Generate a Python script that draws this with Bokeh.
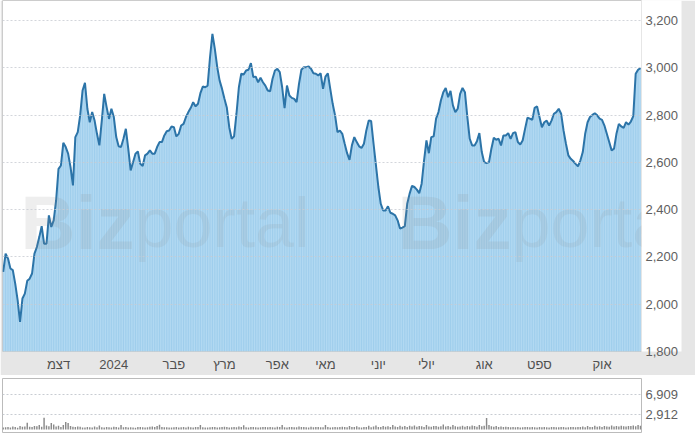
from bokeh.plotting import figure
from bokeh.layouts import column
from bokeh.models import Range1d, FixedTicker, NumeralTickFormatter, Label
from bokeh.embed import file_html
from bokeh.resources import INLINE

# ---- data ----
close = [
    2137, 2214, 2193, 2151, 2144, 2087, 2017, 1925, 2024, 2045,
    2099, 2108, 2130, 2214, 2242, 2284, 2330, 2256, 2256, 2376,
    2327, 2355, 2439, 2573, 2587, 2683, 2665, 2637, 2580, 2503,
    2707, 2728, 2799, 2904, 2937, 2827, 2770, 2813, 2777, 2721,
    2672, 2777, 2890, 2834, 2784, 2827, 2792, 2707, 2668, 2665,
    2700, 2742, 2658, 2566, 2601, 2637, 2646, 2594, 2585, 2630,
    2637, 2651, 2637, 2637, 2665, 2686, 2686, 2714, 2732, 2735,
    2752, 2749, 2710, 2721, 2756, 2763, 2792, 2813, 2831, 2855,
    2837, 2848, 2893, 2921, 2918, 2925, 3045, 3144, 3080, 3003,
    2946, 2911, 2869, 2831, 2749, 2700, 2710, 2806, 2918, 2975,
    2972, 2989, 2992, 3020, 2961, 2963, 2939, 2958, 2939, 2925,
    2904, 2901, 2954, 2989, 2996, 2982, 2918, 2830, 2925, 2883,
    2873, 2869, 2855, 2932, 2992, 3003,
    3003, 3006, 2996, 2977, 2975, 2968, 2977, 2911, 2963, 2977,
    2911, 2848, 2799, 2728, 2735, 2721, 2679, 2639, 2611, 2672,
    2707, 2686, 2668, 2661, 2679, 2735, 2777, 2775, 2679, 2587,
    2496, 2425, 2397, 2397, 2414, 2387, 2383, 2376, 2355, 2320,
    2324, 2330, 2425, 2468, 2501, 2496, 2485, 2470, 2510, 2608,
    2693, 2639, 2707, 2710, 2785, 2813, 2862, 2897, 2915, 2876,
    2903, 2841, 2813, 2827, 2890, 2915, 2897, 2792, 2700, 2672,
    2672, 2690, 2724, 2644, 2601, 2597, 2601, 2658, 2704, 2696,
    2700, 2672, 2714, 2714, 2724, 2700, 2724, 2728, 2686, 2676,
    2693, 2742, 2789, 2785, 2780, 2831, 2837, 2792, 2749, 2770,
    2777, 2756, 2777, 2806, 2813, 2827, 2806, 2735, 2679, 2630,
    2615, 2606, 2594, 2583, 2608, 2644, 2721, 2770, 2792, 2801,
    2808, 2799, 2785, 2780, 2756, 2721, 2686, 2651, 2658, 2721,
    2763, 2752, 2746, 2770, 2760, 2773, 2796, 2975, 2992, 2999,
]

volume = [
    380, 450, 520, 410, 600, 480, 350, 700, 560, 620,
    1350, 540, 480, 720, 650, 900, 560, 2350, 780, 640,
    1300, 980, 600, 750, 520, 880, 1500, 1300, 700, 560,
    480, 620, 540, 410, 380, 520, 450, 390, 600, 470,
    820, 450, 380, 520, 460, 410, 560, 480, 390, 880,
    440, 520, 380, 460, 410, 350, 480, 520, 440, 390,
    460, 540, 600, 480, 720, 950, 520, 440, 460, 380,
    410, 460, 520, 390, 450, 480, 420, 560, 470, 390,
    520, 480, 900, 460, 410, 380, 450, 520, 480, 400,
    460, 510, 560, 480, 420, 470, 520, 440, 600, 480,
    850, 460, 420, 510, 480, 440, 390, 460, 520, 480,
    440, 500, 470, 420, 560, 480, 900, 460, 420, 480,
    510, 470, 440, 600, 520, 480, 450, 410, 560, 470,
    490, 520, 460, 430, 900, 480, 420, 460, 500, 440,
    520, 560, 480, 440, 700, 520, 480, 650, 460, 420,
    480, 520, 750, 460, 600, 820, 520, 480, 700, 560,
    640, 520, 900, 600, 480, 760, 560, 680, 520, 740,
    600, 820, 560, 700, 640, 520, 900, 620, 560, 680,
    720, 560, 640, 980, 600, 700, 560, 880, 640, 560,
    620, 760, 540, 680, 600, 820, 700, 560, 900, 640,
    760, 2300, 880, 640, 560, 700, 520, 620, 480, 560,
    520, 460, 500, 440, 480, 420, 460, 520, 480, 440,
    500, 460, 420, 480, 440, 520, 460, 420, 480, 500,
    460, 440, 520, 480, 420, 460, 500, 480, 440, 520,
    480, 620, 460, 700, 520, 480, 760, 560, 640, 520,
    700, 600, 560, 800, 620, 700, 580, 760, 640, 600,
    720, 680, 800, 640, 900, 760,
]

month_labels = ["דצמ", "2024", "פבר", "מרץ", "אפר", "מאי", "יוני", "יולי", "אוג", "ספט", "אוק"]
month_pos = [23, 46, 71, 92, 114, 134, 156, 176, 200, 223, 249]

price_ticks = [1800, 2000, 2200, 2400, 2600, 2800, 3000, 3200]
volume_ticks = [2912, 6909]

price_view = (1800, 3285)
volume_view = (-600, 10200)

idx = list(range(len(close)))
W = 695
LEFT = 2
RIGHT = 54
FONT = "Liberation Sans"
BAND = "#e6e6e6"
x_range = Range1d(-0.29, len(close) - 1 + 0.42)
floor = price_ticks[0]


def style_right_axis(a, ticks):
    a.ticker = FixedTicker(ticks=ticks)
    a.formatter = NumeralTickFormatter(format="0,0")
    a.axis_line_color = None
    a.major_tick_line_color = None
    a.minor_tick_line_color = None
    a.major_tick_out = 0
    a.major_tick_in = 0
    a.major_label_standoff = 4
    a.major_label_text_font = FONT
    a.major_label_text_font_size = "13px"
    a.major_label_text_color = "#606060"


# ---------------- price panel + month band (x axis) ----------------
p = figure(width=W, height=375, x_range=x_range, y_range=Range1d(*price_view),
           output_backend="svg", toolbar_location=None,
           x_axis_location="below", y_axis_location="right",
           min_border_left=LEFT, min_border_right=RIGHT, min_border_top=0, min_border_bottom=24)
p.background_fill_color = "white"
p.border_fill_color = BAND
p.outline_line_color = "#cccccc"
p.xgrid.visible = False
p.ygrid.ticker = FixedTicker(ticks=price_ticks)
p.ygrid.grid_line_color = "#c8ccd2"
p.ygrid.grid_line_dash = "2 2"
p.ygrid.grid_line_alpha = 0.8
p.ygrid.level = "overlay"

ax = p.yaxis[0]
style_right_axis(ax, price_ticks)
ax.background_fill_color = "white"

xa = p.xaxis[0]
xa.ticker = FixedTicker(ticks=month_pos)
xa.major_label_overrides = {pos: lab for pos, lab in zip(month_pos, month_labels)}
xa.axis_line_color = None
xa.major_tick_line_color = None
xa.minor_tick_line_color = None
xa.major_tick_out = 0
xa.major_tick_in = 0
xa.major_label_standoff = 5
xa.major_label_text_font = FONT
xa.major_label_text_font_size = "13px"
xa.major_label_text_color = "#505050"

base = [floor] * len(close)
p.varea(x=idx, y1=base, y2=close, fill_color="#b2d9f2")
p.vbar(x=idx, bottom=base, top=close, width=0.45, fill_color="#8fc4e8",
       fill_alpha=0.55, line_color=None)
p.line(idx, close, line_color="#2c74a8", line_width=2)

for bx, px in [(7.2, 54.6), (164.0, 211.4)]:
    p.add_layout(Label(x=bx, y=2345, text="Biz", text_font=FONT, text_font_size="76px",
                       text_font_style="bold", text_color="#8a8a8a", text_alpha=0.15,
                       text_baseline="alphabetic", text_align="left"))
    p.add_layout(Label(x=px, y=2345, text="portal", text_font=FONT, text_font_size="70px",
                       text_color="#8a8a8a", text_alpha=0.13,
                       text_baseline="alphabetic", text_align="left"))

# ---------------- volume panel ----------------
v = figure(width=W, height=60, x_range=x_range, y_range=Range1d(*volume_view),
           output_backend="svg", toolbar_location=None,
           x_axis_location=None, y_axis_location="right",
           min_border_left=LEFT, min_border_right=RIGHT, min_border_top=3, min_border_bottom=3)
v.background_fill_color = "white"
v.border_fill_color = "white"
v.outline_line_color = "#bbbbbb"
v.xgrid.visible = False
v.ygrid.ticker = FixedTicker(ticks=volume_ticks)
v.ygrid.grid_line_color = "#c8ccd2"
v.ygrid.grid_line_dash = "2 2"
style_right_axis(v.yaxis[0], volume_ticks)
v.vbar(x=idx, top=volume, bottom=0, width=0.6, fill_color="#8a8a8a", line_color=None)

layout = column(p, v, spacing=0)
open("out.html", "w").write(file_html(layout, INLINE))
